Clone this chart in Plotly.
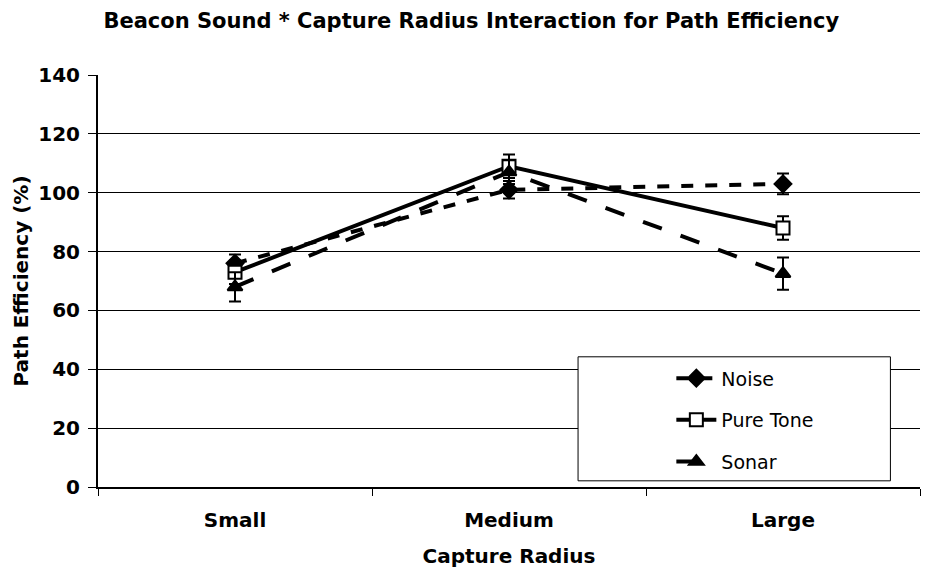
import plotly.graph_objects as go

categories = ["Small", "Medium", "Large"]

noise = [76, 101, 103]
noise_err = [3, 3, 3.5]

pure_tone = [73, 109, 88]
pure_tone_err = [4, 4, 4]

sonar = [68, 107, 72.5]
sonar_err = [5, 4, 5.5]

y_ticks = [0, 20, 40, 60, 80, 100, 120, 140]

FONT = "DejaVu Sans"

fig = go.Figure()


def add_series(name, values, errs, dash, symbol, fill, group):
    fig.add_trace(go.Scatter(
        x=categories, y=values, name=name, mode="lines+markers",
        line=dict(color="black", width=4, dash=dash),
        marker=dict(symbol=symbol, size=13, color=fill,
                    line=dict(color="black", width=2)),
        error_y=dict(type="data", array=errs, visible=True,
                     color="black", thickness=2, width=6),
        legendgroup=group,
    ))


add_series("Noise", noise, noise_err, "dash", "diamond", "black", "a")
add_series("Pure Tone", pure_tone, pure_tone_err, "solid", "square", "white", "b")
add_series("Sonar", sonar, sonar_err, "longdash", "triangle-up", "black", "c")

# legend frame
fig.add_shape(type="rect", xref="paper", yref="paper",
              x0=0.584, x1=0.964, y0=0.015, y1=0.316,
              line=dict(color="black", width=1), fillcolor="white", layer="above")

fig.update_layout(
    width=934, height=569,
    margin=dict(l=90, r=22, t=67, b=90),
    paper_bgcolor="white", plot_bgcolor="white",
    title=dict(text="Beacon Sound * Capture Radius Interaction for Path Efficiency",
               x=0.496, xref="container", xanchor="center",
               y=0.99, yanchor="top", pad=dict(t=0),
               font=dict(family=FONT, size=21, color="black", weight="bold")),
    font=dict(family=FONT, color="black"),
    legend=dict(x=0.6975, y=0.31, xanchor="left", yanchor="top",
                bgcolor="rgba(0,0,0,0)", borderwidth=0,
                font=dict(family=FONT, size=19, color="black"),
                tracegroupgap=14, itemwidth=40),
    showlegend=True,
)

fig.update_xaxes(
    type="category", range=[-0.5, 2.5], automargin=False,
    showline=True, linecolor="black", linewidth=2,
    ticks="outside", tickson="boundaries", ticklen=7, tickcolor="black", tickwidth=1,
    showgrid=False, ticklabelstandoff=14,
    tickfont=dict(family=FONT, size=20, color="black", weight="bold"),
    title=dict(text="Capture Radius", standoff=18,
               font=dict(family=FONT, size=20, weight="bold")),
)

fig.update_yaxes(
    range=[0, 140], tickvals=y_ticks, automargin=False,
    showline=True, linecolor="black", linewidth=2,
    ticks="outside", ticklen=8, tickcolor="black", tickwidth=1,
    showgrid=True, gridcolor="black", gridwidth=1, zeroline=False,
    ticklabelstandoff=4,
    tickfont=dict(family=FONT, size=20, color="black", weight="bold"),
    title=dict(text="Path Efficiency (%)", standoff=4,
               font=dict(family=FONT, size=20, weight="bold")),
)

fig.write_html("out.html")
